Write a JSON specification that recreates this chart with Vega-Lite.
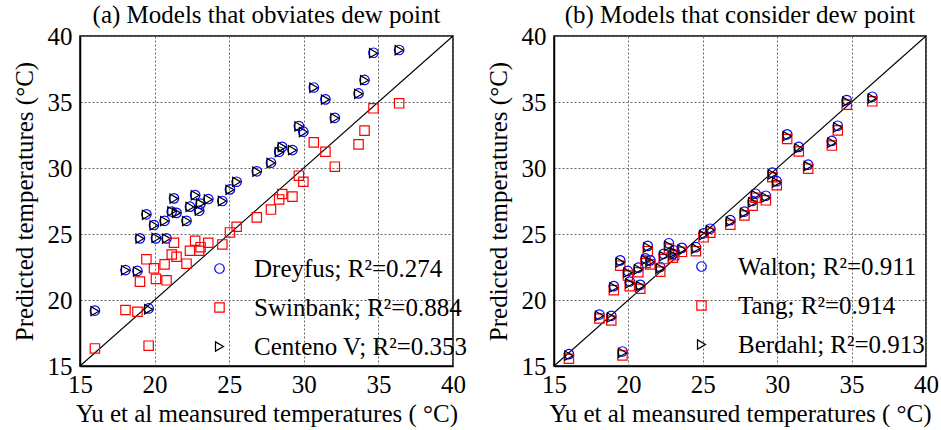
{
  "$schema": "https://vega.github.io/schema/vega-lite/v6.json",
  "background": "white",
  "padding": {"left": 11, "top": 2, "right": 5, "bottom": 0},
  "config": {
    "font": "Liberation Serif",
    "view": {"stroke": "black", "strokeWidth": 1.5},
    "axis": {
      "labelFont": "Liberation Serif", "labelFontSize": 25, "labelColor": "black",
      "titleFont": "Liberation Serif", "titleFontSize": 25, "titleFontWeight": "normal", "titleColor": "black",
      "domainColor": "black", "domainWidth": 1.5, "ticks": false, "labelFlush": false,
      "grid": true, "gridColor": "#666666", "gridDash": [2, 2], "gridWidth": 1
    },
    "axisX": {"labelPadding": 6, "titlePadding": 4},
    "axisY": {"labelPadding": 8, "titlePadding": 10},
    "title": {"font": "Liberation Serif", "fontSize": 25, "fontWeight": "normal", "color": "black", "offset": -4},
    "legend": {
      "orient": "none", "padding": 0, "labelFont": "Liberation Serif", "labelFontSize": 25, "labelColor": "black",
      "rowPadding": 13, "symbolSize": 55, "symbolStrokeWidth": 1.2, "title": null, "labelLimit": 400
    }
  },
  "datasets": {
    "diag": [{"x": 15, "y": 15}, {"x": 40, "y": 40}],
    "pts": [
      {"x": 16.0, "Dreyfus": 19.2, "Swinbank": 16.33, "Centeno V": 19.15, "Walton": 15.9, "Tang": 15.55, "Berdahl": 15.78},
      {"x": 18.05, "Dreyfus": 22.27, "Swinbank": 19.24, "Centeno V": 22.25, "Walton": 18.9, "Tang": 18.6, "Berdahl": 18.8},
      {"x": 18.85, "Dreyfus": 22.2, "Swinbank": 19.11, "Centeno V": 22.15, "Walton": 18.8, "Tang": 18.45, "Berdahl": 18.68},
      {"x": 19.6, "Dreyfus": 19.36, "Swinbank": 16.54, "Centeno V": 19.3, "Walton": 16.1, "Tang": 15.8, "Berdahl": 16.0},
      {"x": 19.02, "Dreyfus": 24.67, "Swinbank": 21.39, "Centeno V": 24.65, "Walton": 21.05, "Tang": 20.75, "Berdahl": 20.95},
      {"x": 19.45, "Dreyfus": 26.49, "Swinbank": 23.08, "Centeno V": 26.45, "Walton": 23.0, "Tang": 22.6, "Berdahl": 22.85},
      {"x": 19.96, "Dreyfus": 25.68, "Swinbank": 22.4, "Centeno V": 25.65, "Walton": 22.2, "Tang": 21.85, "Berdahl": 22.07},
      {"x": 20.09, "Dreyfus": 24.67, "Swinbank": 21.6, "Centeno V": 24.7, "Walton": 21.4, "Tang": 21.05, "Berdahl": 21.26},
      {"x": 20.8, "Dreyfus": 24.67, "Swinbank": 21.49, "Centeno V": 24.65, "Walton": 21.15, "Tang": 20.85, "Berdahl": 21.06},
      {"x": 20.67, "Dreyfus": 26.0, "Swinbank": 22.7, "Centeno V": 25.98, "Walton": 22.45, "Tang": 22.1, "Berdahl": 22.32},
      {"x": 21.3, "Dreyfus": 27.7, "Swinbank": 24.34, "Centeno V": 27.68, "Walton": 24.1, "Tang": 23.7, "Berdahl": 23.99},
      {"x": 21.15, "Dreyfus": 26.7, "Swinbank": 23.45, "Centeno V": 26.72, "Walton": 23.15, "Tang": 22.8, "Berdahl": 23.03},
      {"x": 21.47, "Dreyfus": 26.6, "Swinbank": 23.28, "Centeno V": 26.6, "Walton": 23.0, "Tang": 22.7, "Berdahl": 22.9},
      {"x": 22.14, "Dreyfus": 26.0, "Swinbank": 22.75, "Centeno V": 25.98, "Walton": 22.5, "Tang": 22.15, "Berdahl": 22.4},
      {"x": 22.37, "Dreyfus": 27.07, "Swinbank": 23.73, "Centeno V": 27.05, "Walton": 23.5, "Tang": 23.1, "Berdahl": 23.33},
      {"x": 22.72, "Dreyfus": 27.95, "Swinbank": 24.49, "Centeno V": 27.93, "Walton": 24.3, "Tang": 23.9, "Berdahl": 24.1},
      {"x": 22.99, "Dreyfus": 26.76, "Swinbank": 23.73, "Centeno V": 26.78, "Walton": 23.5, "Tang": 23.2, "Berdahl": 23.4},
      {"x": 23.08, "Dreyfus": 27.3, "Swinbank": 24.0, "Centeno V": 27.3, "Walton": 23.75, "Tang": 23.4, "Berdahl": 23.6},
      {"x": 23.6, "Dreyfus": 27.65, "Swinbank": 24.34, "Centeno V": 27.62, "Walton": 23.95, "Tang": 23.65, "Berdahl": 23.83},
      {"x": 24.54, "Dreyfus": 27.5, "Swinbank": 24.21, "Centeno V": 27.5, "Walton": 24.0, "Tang": 23.7, "Berdahl": 23.9},
      {"x": 25.05, "Dreyfus": 28.38, "Swinbank": 25.12, "Centeno V": 28.35, "Walton": 25.05, "Tang": 24.75, "Berdahl": 24.92},
      {"x": 25.5, "Dreyfus": 28.96, "Swinbank": 25.55, "Centeno V": 28.95, "Walton": 25.4, "Tang": 25.1, "Berdahl": 25.3},
      {"x": 26.85, "Dreyfus": 29.75, "Swinbank": 26.26, "Centeno V": 29.72, "Walton": 26.05, "Tang": 25.7, "Berdahl": 25.93},
      {"x": 27.8, "Dreyfus": 30.4, "Swinbank": 26.85, "Centeno V": 30.38, "Walton": 26.7, "Tang": 26.4, "Berdahl": 26.6},
      {"x": 28.35, "Dreyfus": 31.23, "Swinbank": 27.62, "Centeno V": 31.2, "Walton": 27.5, "Tang": 27.15, "Berdahl": 27.39},
      {"x": 28.55, "Dreyfus": 31.6, "Swinbank": 28.03, "Centeno V": 31.58, "Walton": 28.05, "Tang": 27.75, "Berdahl": 27.95},
      {"x": 29.24, "Dreyfus": 31.36, "Swinbank": 27.83, "Centeno V": 31.35, "Walton": 27.9, "Tang": 27.55, "Berdahl": 27.77},
      {"x": 29.67, "Dreyfus": 33.18, "Swinbank": 29.42, "Centeno V": 33.15, "Walton": 29.65, "Tang": 29.3, "Berdahl": 29.52},
      {"x": 29.97, "Dreyfus": 32.75, "Swinbank": 28.96, "Centeno V": 32.72, "Walton": 29.0, "Tang": 28.7, "Berdahl": 28.91},
      {"x": 30.67, "Dreyfus": 36.1, "Swinbank": 31.94, "Centeno V": 36.08, "Walton": 32.55, "Tang": 32.2, "Berdahl": 32.42},
      {"x": 31.45, "Dreyfus": 35.2, "Swinbank": 31.23, "Centeno V": 35.18, "Walton": 31.6, "Tang": 31.25, "Berdahl": 31.48},
      {"x": 32.08, "Dreyfus": 33.8, "Swinbank": 30.1, "Centeno V": 33.78, "Walton": 30.25, "Tang": 29.95, "Berdahl": 30.15},
      {"x": 33.67, "Dreyfus": 35.65, "Swinbank": 31.79, "Centeno V": 35.62, "Walton": 32.05, "Tang": 31.7, "Berdahl": 31.92},
      {"x": 34.07, "Dreyfus": 36.67, "Swinbank": 32.83, "Centeno V": 36.65, "Walton": 33.2, "Tang": 32.85, "Berdahl": 33.08},
      {"x": 34.67, "Dreyfus": 38.73, "Swinbank": 34.52, "Centeno V": 38.7, "Walton": 35.15, "Tang": 34.8, "Berdahl": 35.02},
      {"x": 36.39, "Dreyfus": 38.94, "Swinbank": 34.9, "Centeno V": 38.92, "Walton": 35.4, "Tang": 35.05, "Berdahl": 35.27}
    ]
  },
  "bounds": "flush",
  "spacing": 101,
  "resolve": {"scale": {"color": "independent", "shape": "independent", "size": "independent"}, "legend": {"color": "independent", "shape": "independent"}},
  "hconcat": [
    {
      "width": 373, "height": 330,
      "title": "(a) Models that obviates dew point",
      "layer": [
        {
          "data": {"name": "diag"},
          "mark": {"type": "line", "color": "black", "strokeWidth": 1.1},
          "encoding": {
            "x": {"field": "x", "type": "quantitative", "scale": {"domain": [15, 40], "nice": false, "zero": false}, "axis": {"values": [15, 20, 25, 30, 35, 40], "title": "Yu et al meansured temperatures ( °C)"}},
            "y": {"field": "y", "type": "quantitative", "scale": {"domain": [15, 40], "nice": false, "zero": false}, "axis": {"values": [15, 20, 25, 30, 35, 40], "title": "Predicted temperatures (°C)"}}
          }
        },
        {
          "data": {"name": "pts"},
          "transform": [{"fold": ["Dreyfus", "Swinbank", "Centeno V"], "as": ["model", "y"]}],
          "mark": {"type": "point", "filled": false, "strokeWidth": 1.2, "opacity": 1},
          "encoding": {
            "x": {"field": "x", "type": "quantitative"},
            "y": {"field": "y", "type": "quantitative"},
            "color": {"field": "model", "type": "nominal", "scale": {"domain": ["Dreyfus", "Swinbank", "Centeno V"], "range": ["#0000ff", "#ff0000", "#000000"]},
              "legend": {"legendX": 127, "legendY": 220, "labelOffset": 22,
                "labelExpr": "datum.label == 'Dreyfus' ? 'Dreyfus; R²=0.274' : datum.label == 'Swinbank' ? 'Swinbank; R²=0.884' : 'Centeno V; R²=0.353'"}},
            "shape": {"field": "model", "type": "nominal", "scale": {"domain": ["Dreyfus", "Swinbank", "Centeno V"], "range": ["circle", "square", "triangle-right"]},
              "legend": {"legendX": 127, "legendY": 220, "labelOffset": 22,
                "labelExpr": "datum.label == 'Dreyfus' ? 'Dreyfus; R²=0.274' : datum.label == 'Swinbank' ? 'Swinbank; R²=0.884' : 'Centeno V; R²=0.353'"}},
            "size": {"field": "model", "type": "nominal", "scale": {"domain": ["Dreyfus", "Swinbank", "Centeno V"], "range": [90, 85, 55]}, "legend": null}
          }
        }
      ]
    },
    {
      "width": 372, "height": 330,
      "title": "(b) Models that consider dew point",
      "layer": [
        {
          "data": {"name": "diag"},
          "mark": {"type": "line", "color": "black", "strokeWidth": 1.1},
          "encoding": {
            "x": {"field": "x", "type": "quantitative", "scale": {"domain": [15, 40], "nice": false, "zero": false}, "axis": {"values": [15, 20, 25, 30, 35, 40], "title": "Yu et al meansured temperatures ( °C)"}},
            "y": {"field": "y", "type": "quantitative", "scale": {"domain": [15, 40], "nice": false, "zero": false}, "axis": {"values": [15, 20, 25, 30, 35, 40], "title": "Predicted temperatures (°C)"}}
          }
        },
        {
          "data": {"name": "pts"},
          "transform": [{"fold": ["Walton", "Tang", "Berdahl"], "as": ["model", "y"]}],
          "mark": {"type": "point", "filled": false, "strokeWidth": 1.2, "opacity": 1},
          "encoding": {
            "x": {"field": "x", "type": "quantitative"},
            "y": {"field": "y", "type": "quantitative"},
            "color": {"field": "model", "type": "nominal", "scale": {"domain": ["Walton", "Tang", "Berdahl"], "range": ["#0000ff", "#ff0000", "#000000"]},
              "legend": {"legendX": 135, "legendY": 218, "labelOffset": 24,
                "labelExpr": "datum.label == 'Walton' ? 'Walton; R²=0.911' : datum.label == 'Tang' ? 'Tang; R²=0.914' : 'Berdahl; R²=0.913'"}},
            "shape": {"field": "model", "type": "nominal", "scale": {"domain": ["Walton", "Tang", "Berdahl"], "range": ["circle", "square", "triangle-right"]},
              "legend": {"legendX": 135, "legendY": 218, "labelOffset": 24,
                "labelExpr": "datum.label == 'Walton' ? 'Walton; R²=0.911' : datum.label == 'Tang' ? 'Tang; R²=0.914' : 'Berdahl; R²=0.913'"}},
            "size": {"field": "model", "type": "nominal", "scale": {"domain": ["Walton", "Tang", "Berdahl"], "range": [90, 85, 55]}, "legend": null}
          }
        }
      ]
    }
  ]
}
